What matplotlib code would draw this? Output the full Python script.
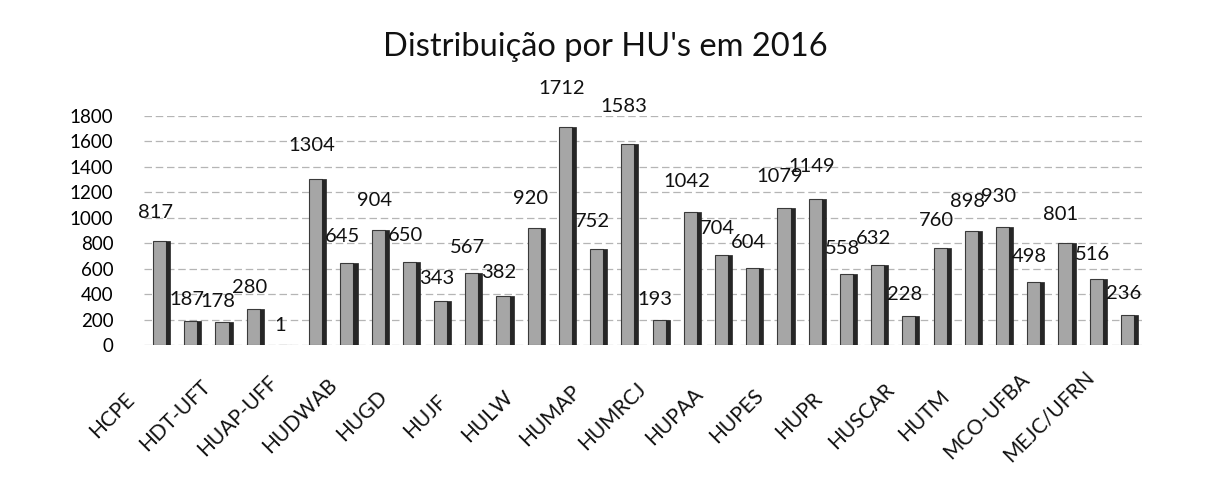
"""Distribuição por HU's em 2016 - colunas estilo Excel 3D."""
import numpy as np
import matplotlib
matplotlib.use("Agg")
import matplotlib.pyplot as plt
import matplotlib.transforms as mtransforms

# --- dati ---
valores = [817, 187, 178, 280, 1, 1304, 645, 904, 650, 343, 567, 382,
           920, 1712, 752, 1583, 193, 1042, 704, 604, 1079, 1149, 558, 632,
           228, 760, 898, 930, 498, 801, 516, 236]
# solo una etichetta ogni due colonne è visibile
rotulos = ["HCPE", "HDT-UFT", "HUAP-UFF", "HUDWAB", "HUGD", "HUJF", "HULW",
           "HUMAP", "HUMRCJ", "HUPAA", "HUPES", "HUPR", "HUSCAR", "HUTM",
           "MCO-UFBA", "MEJC/UFRN"]
y_ticks = [0, 200, 400, 600, 800, 1000, 1200, 1400, 1600, 1800]
titulo = "Distribuição por HU's em 2016"

plt.rcParams["font.family"] = ["Lato", "DejaVu Sans"]

fig = plt.figure(figsize=(12.17, 4.91), dpi=100)
ax = fig.add_axes([0.1183, 0.2974, 0.8209, 0.4663])

x = np.arange(len(valores))
face_w = 0.42
side_w = 0.13

# griglia tratteggiata
for t in y_ticks:
    ax.axhline(t, color="#b5b5b5", lw=0.9, ls=(0, (6, 3)), zorder=0)

# faccia frontale + lato scuro
ax.bar(x, valores, width=face_w, color="#a6a6a6", edgecolor="#3a3a3a",
       linewidth=0.8, zorder=2)
ax.bar(x + face_w / 2 + side_w / 2, valores, width=side_w, color="#262626",
       edgecolor="#262626", linewidth=0.5, zorder=2)

# etichette dei valori (più alte per colonne più alte, come in Excel 3D)
lab_off = mtransforms.ScaledTranslation(-4 / 100, 0, fig.dpi_scale_trans)
for xi, v in zip(x, valores):
    ax.text(xi, v * 1.09 + 150, str(v), ha="center", va="center",
            fontsize=14.5, color="#111111", zorder=3,
            transform=ax.transData + lab_off)

ax.set_xlim(-0.5, len(valores) - 0.5)
ax.set_ylim(0, 1800)
ax.set_yticks(y_ticks)
ax.tick_params(axis="y", length=0, pad=22, labelsize=13.5)
ax.set_xticks([])
for s in ax.spines.values():
    s.set_visible(False)

# etichette categorie ruotate, centrate e spostate a sinistra
off = mtransforms.ScaledTranslation(-47 / 100, -71 / 100, fig.dpi_scale_trans)
trans = ax.get_xaxis_transform() + off
for i, lab in enumerate(rotulos):
    ax.text(x[2 * i], 0, lab, transform=trans, rotation=45, ha="center",
            va="center", rotation_mode="anchor", fontsize=15, color="#111111")

fig.text(0.497, 0.904, titulo, ha="center", va="center", fontsize=23.5,
         color="#111111")

fig.savefig("out.png", dpi=100, facecolor="white")
